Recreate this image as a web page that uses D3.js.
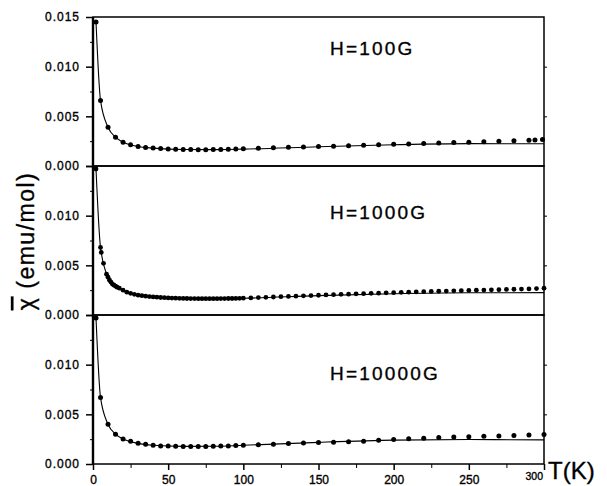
<!DOCTYPE html>
<html>
<head>
<meta charset="utf-8">
<script src="https://cdn.jsdelivr.net/npm/d3@7"></script>
<style>
  body { margin: 0; background: #fff; }
  svg text { font-family: "Liberation Sans", Arial, sans-serif; fill: #000; stroke: #000; stroke-width: 0.35px; }
</style>
</head>
<body>
<div id="chart"></div>
<script>
// field labels for the three panels
const fieldLabels = ["H=100G", "H=1000G", "H=10000G"];

// tick values
const tempTicks = [0, 50, 100, 150, 200, 250, 300];
const tempMinor = [25, 75, 125, 175, 225, 275];
const chiTicks = [0, 0.005, 0.010, 0.015];
const chiMinor = [0.0025, 0.0075, 0.0125];

// H = 100 G, measured points
const temp100 = [2, 5, 10, 15, 20, 25, 30, 35, 40, 45, 50, 55, 60, 65, 70, 75, 80, 85, 90, 95, 100,
  110, 120, 130, 140, 150, 160, 170, 180, 190, 200, 210, 220, 230, 240, 250, 260, 270, 280, 290, 294, 299];
const chi100 = [0.0145, 0.0066, 0.0039, 0.0029, 0.0024, 0.00215, 0.00197, 0.00187, 0.0018, 0.00175, 0.00171,
  0.00168, 0.00166, 0.00165, 0.00164, 0.00164, 0.00165, 0.00166, 0.00168, 0.0017, 0.00173,
  0.00178, 0.00183, 0.00188, 0.00192, 0.00196, 0.002, 0.00204, 0.00208, 0.00213, 0.00218,
  0.00222, 0.00227, 0.00231, 0.00236, 0.0024, 0.00245, 0.0025, 0.00255, 0.0026, 0.00262, 0.00266];

// H = 1000 G, measured points
const temp1000 = [2, 5, 5.5, 7, 9, 10, 11, 12, 13, 14, 15, 16, 17.5,
  20, 22.5, 25, 27.5, 30, 32.5, 35, 37.5, 40, 42.5, 45, 47.5, 50, 52.5, 55, 57.5, 60, 62.5, 65, 67.5,
  70, 72.5, 75, 77.5, 80, 82.5, 85, 87.5, 90, 92.5, 95, 97.5, 100,
  105, 110, 115, 120, 125, 130, 135, 140, 145, 150, 155, 160, 165, 170, 175, 180, 185, 190, 195, 200,
  205, 210, 215, 220, 225, 230, 235, 240, 245, 250, 255, 260, 265, 270, 275, 280, 285, 290, 295, 300];
const chi1000 = [0.0147, 0.0068, 0.0063, 0.0052, 0.0041, 0.0038, 0.0035, 0.0033, 0.0031, 0.0030, 0.0029, 0.0028, 0.0027,
  0.0025, 0.0023, 0.00218, 0.00208, 0.002, 0.00195, 0.0019, 0.00185, 0.00182, 0.00179, 0.00176, 0.00174,
  0.00172, 0.0017, 0.00169, 0.00168, 0.00167, 0.00166, 0.00165, 0.00165, 0.00164, 0.00164, 0.00164,
  0.00164, 0.00164, 0.00164, 0.00165, 0.00165, 0.00166, 0.00166, 0.00167, 0.00168, 0.00169,
  0.00172, 0.00175, 0.00178, 0.00181, 0.00184, 0.00187, 0.0019, 0.00193, 0.00196, 0.00199,
  0.00202, 0.00205, 0.00208, 0.0021, 0.00213, 0.00215, 0.00218, 0.0022, 0.00223, 0.00225,
  0.00228, 0.0023, 0.00232, 0.00235, 0.00237, 0.00239, 0.00241, 0.00243, 0.00245, 0.00247,
  0.00249, 0.00251, 0.00253, 0.00255, 0.00257, 0.00259, 0.00261, 0.00263, 0.00266, 0.0027];

// H = 10000 G, measured points
const temp10000 = [2, 5, 10, 15, 20, 25, 30, 35, 40, 45, 50, 55, 60, 65, 70, 75, 80, 85, 90, 95, 100,
  110, 120, 130, 140, 150, 160, 170, 180, 190, 200, 210, 220, 230, 240, 250, 260, 270, 280, 290, 300];
const chi10000 = [0.0147, 0.0067, 0.0040, 0.0030, 0.00252, 0.00228, 0.00208, 0.00198, 0.00188, 0.00182, 0.0018,
  0.00178, 0.00177, 0.00177, 0.00177, 0.00177, 0.00178, 0.0018, 0.00182, 0.00185, 0.00188,
  0.00194, 0.002, 0.00206, 0.00211, 0.00216, 0.0022, 0.00224, 0.00229, 0.00238, 0.00247,
  0.00254, 0.0026, 0.00266, 0.00271, 0.00275, 0.00279, 0.00282, 0.00286, 0.00292, 0.00298];

// fitted curves (solid lines)
const fitTemp = [2, 5, 10, 15, 20, 30, 40, 60, 80, 100, 150, 200, 250, 300];
const fit100 = [0.0145, 0.0066, 0.0039, 0.0029, 0.0024, 0.00197, 0.0018, 0.00166, 0.00165, 0.0017, 0.00194, 0.00214, 0.00225, 0.00224];
const fit1000 = [0.0147, 0.0068, 0.0038, 0.0029, 0.0025, 0.002, 0.00182, 0.00167, 0.00164, 0.00169, 0.00195, 0.00214, 0.00224, 0.00225];
const fit10000 = [0.0147, 0.0067, 0.004, 0.003, 0.00252, 0.00208, 0.00188, 0.00177, 0.00178, 0.00188, 0.00218, 0.0024, 0.00246, 0.00243];

const width = 607, height = 486;
const left = 93, right = 544;
const panelTop = [17, 166, 315];
const panelH = 149;

const panels = [
  {label: fieldLabels[0], t: temp100, chi: chi100, fit: fit100, r: 2.5, labelY: 55},
  {label: fieldLabels[1], t: temp1000, chi: chi1000, fit: fit1000, r: 2.4, labelY: 219},
  {label: fieldLabels[2], t: temp10000, chi: chi10000, fit: fit10000, r: 2.5, labelY: 380}
];

const x = d3.scaleLinear().domain([0, 300]).range([left, right]);

const svg = d3.select("#chart").append("svg")
  .attr("width", width).attr("height", height);

panels.forEach((p, i) => {
  const top = panelTop[i];
  const y = d3.scaleLinear().domain([0, 0.015]).range([top + panelH, top]);
  const g = svg.append("g");

  // frame
  g.append("rect")
    .attr("x", left).attr("y", top)
    .attr("width", right - left).attr("height", panelH)
    .attr("fill", "none").attr("stroke", "#000").attr("stroke-width", 1.5);

  // left ticks, labels only where not shared with panel above
  const labelTicks = i == 0 ? chiTicks : chiTicks.slice(0, 3);
  const yAxis = g.append("g")
    .attr("transform", `translate(${left},0)`)
    .call(d3.axisLeft(y).tickValues(chiTicks).tickSize(7).tickPadding(6)
      .tickFormat(d => labelTicks.includes(d) ? d3.format(".3f")(d) : ""));
  yAxis.select(".domain").remove();
  yAxis.selectAll("line").attr("stroke-width", 1.5);
  yAxis.selectAll("text")
    .attr("font-size", 12).attr("letter-spacing", 1)
    .attr("font-family", "'Liberation Sans', Arial, sans-serif");

  const yMinor = g.append("g")
    .attr("transform", `translate(${left},0)`)
    .call(d3.axisLeft(y).tickValues(chiMinor).tickSize(3).tickFormat(""));
  yMinor.select(".domain").remove();

  // small ticks on the right side
  const yRight = g.append("g")
    .attr("transform", `translate(${right},0)`)
    .call(d3.axisRight(y).tickValues([0.005, 0.010]).tickSize(3).tickFormat(""));
  yRight.select(".domain").remove();

  // fit line
  const line = d3.line()
    .x((d, j) => x(fitTemp[j]))
    .y(d => y(d))
    .curve(d3.curveMonotoneX);
  g.append("path")
    .datum(p.fit)
    .attr("d", line)
    .attr("fill", "none").attr("stroke", "#000").attr("stroke-width", 1.1);

  // data dots
  g.append("g")
    .selectAll("circle")
    .data(p.chi)
    .join("circle")
    .attr("cx", (d, j) => x(p.t[j]))
    .attr("cy", d => y(d))
    .attr("r", p.r)
    .attr("fill", "#000");

  // field label
  g.append("text")
    .attr("x", 330).attr("y", p.labelY)
    .attr("font-size", 19).attr("letter-spacing", 2.2)
    .text(p.label);
});

// heavy left axis line
svg.append("line")
  .attr("x1", left).attr("x2", left)
  .attr("y1", panelTop[0]).attr("y2", panelTop[2] + panelH)
  .attr("stroke", "#000").attr("stroke-width", 2.4);

// x axis
const bottomY = panelTop[2] + panelH;
const xAxis = svg.append("g")
  .attr("transform", `translate(0,${bottomY})`)
  .call(d3.axisBottom(x).tickValues(tempTicks).tickSize(6).tickPadding(5)
    .tickFormat(d => d == 300 ? "" : d));
xAxis.select(".domain").remove();
xAxis.selectAll("line").attr("stroke-width", 1.5);
xAxis.selectAll("text").attr("font-size", 12)
  .attr("font-family", "'Liberation Sans', Arial, sans-serif");

const xMinor = svg.append("g")
  .attr("transform", `translate(0,${bottomY})`)
  .call(d3.axisBottom(x).tickValues(tempMinor).tickSize(4).tickFormat(""));
xMinor.select(".domain").remove();

// "300" label sits tight to the left of the axis title
svg.append("text")
  .attr("x", x(300) - 1).attr("y", 480)
  .attr("text-anchor", "end").attr("font-size", 10.5)
  .text("300");

svg.append("text")
  .attr("x", 548).attr("y", 479)
  .attr("font-size", 24)
  .text("T(K)");

// y axis title
const yTitle = svg.append("text")
  .attr("transform", "translate(34,241) rotate(-90)")
  .attr("text-anchor", "middle")
  .attr("font-size", 23).attr("letter-spacing", 1.5);
yTitle.append("tspan").style("text-decoration", "overline").text("χ");
yTitle.append("tspan").text(" (emu/mol)");
</script>
</body>
</html>
